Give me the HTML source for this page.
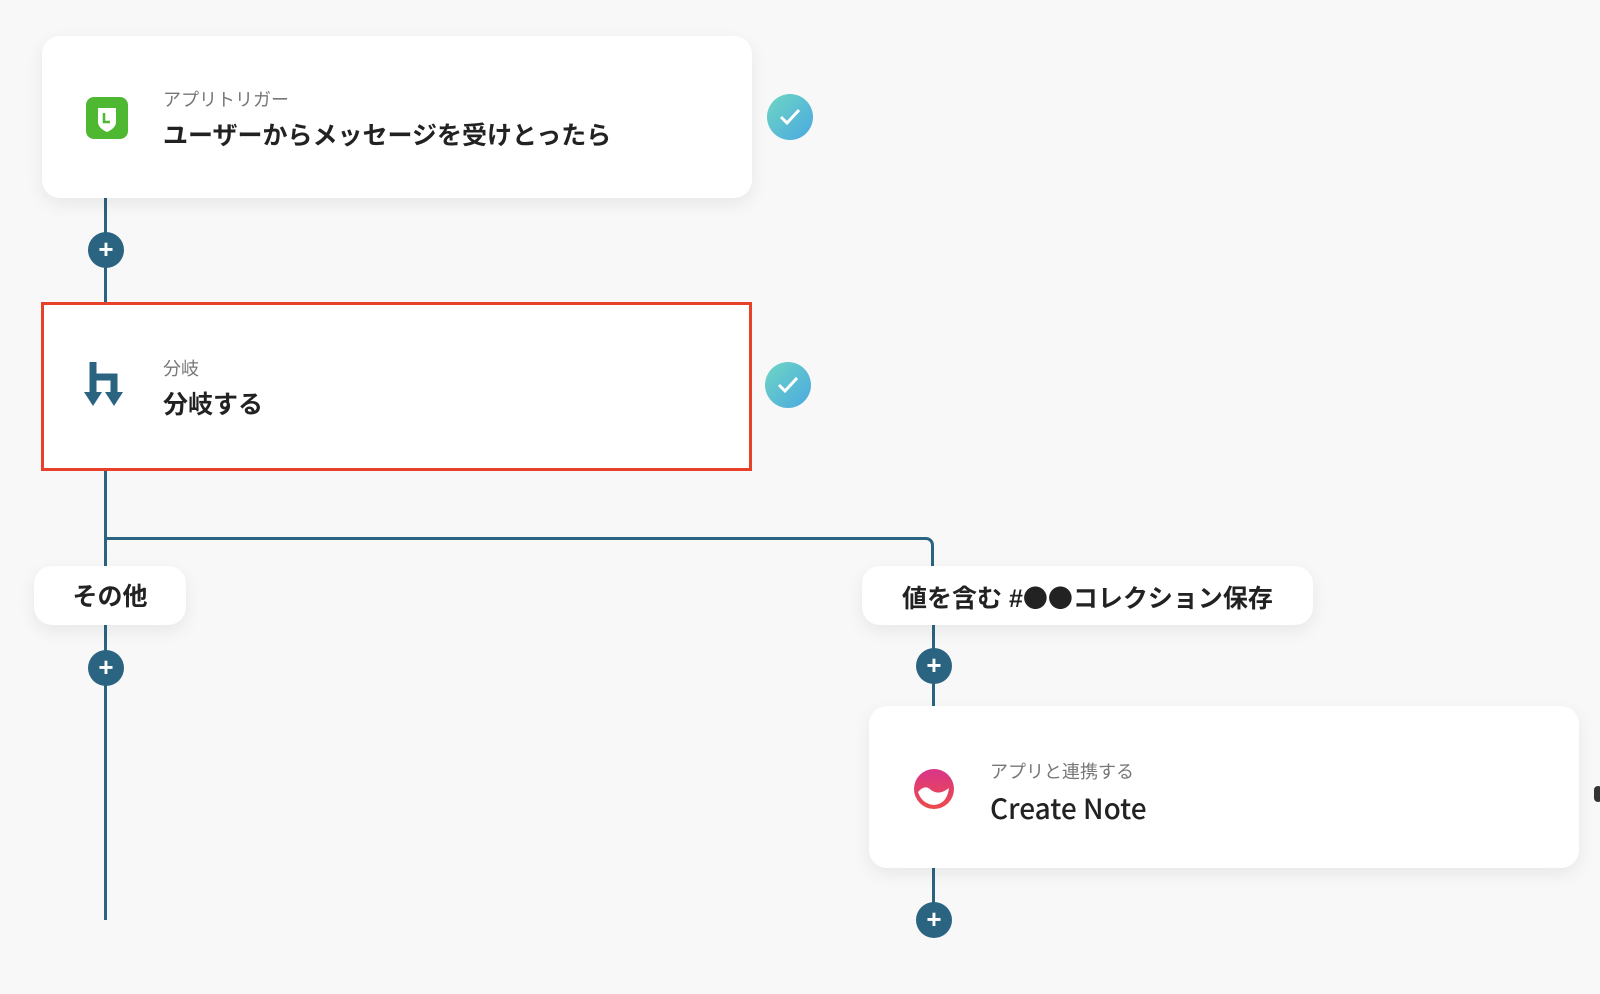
<!DOCTYPE html>
<html><head><meta charset="utf-8"><style>
body{margin:0;width:1600px;height:994px;background:#f8f8f8;position:relative;overflow:hidden;font-family:"Liberation Sans","Noto Sans CJK JP",sans-serif}
.card{position:absolute;background:#fff;border-radius:18px;box-shadow:0 6px 18px rgba(0,0,0,.07)}
.sm{position:absolute;font-size:18px;color:#777}
.tt{position:absolute;font-size:25px;font-weight:bold;color:#222}
.ln{position:absolute;background:#2b6480}
.plus{position:absolute;width:36px;height:36px;border-radius:50%;background:#2b6480;color:#fff;font-size:26px;font-weight:bold;line-height:35px;text-align:center}
.chk{position:absolute;width:46px;height:46px;border-radius:50%;background:linear-gradient(135deg,#6fd6c4,#4aa8e0)}
.lbl{position:absolute;background:#fff;border-radius:18px;box-shadow:0 6px 18px rgba(0,0,0,.07);font-size:25px;font-weight:bold;color:#222;text-align:center;line-height:62px}
</style></head><body>
<div class="ln" style="left:104px;top:198px;width:3px;height:104px"></div>
<div class="ln" style="left:104px;top:471px;width:3px;height:449px"></div>
<div style="position:absolute;left:104px;top:537px;width:830px;height:30px;border-top:3px solid #2b6480;border-right:3px solid #2b6480;border-top-right-radius:8px;box-sizing:border-box"></div>
<div class="ln" style="left:932px;top:620px;width:3px;height:300px"></div>

<div class="card" style="left:42px;top:36px;width:710px;height:162px"></div>
<div style="position:absolute;left:86px;top:97px;width:42px;height:42px;border-radius:8px;background:#4fb832"></div>
<svg style="position:absolute;left:86px;top:97px" width="42" height="42"><path d="M12 11 L30 11 L30 25 Q30 31 21 35 Q12 31 12 25 Z" fill="#fff"/><path d="M18 16 V25 H24" stroke="#4fb832" stroke-width="2.5" fill="none"/></svg>
<div class="sm" style="left:163px;top:86px">アプリトリガー</div>
<div class="tt" style="left:163px;top:116px">ユーザーからメッセージを受けとったら</div>
<div class="chk" style="left:767px;top:94px"></div>
<svg style="position:absolute;left:767px;top:94px" width="46" height="46"><path d="M14 23 L20 29 L32 16" stroke="#fff" stroke-width="3" fill="none"/></svg>

<div class="plus" style="left:88px;top:232px">+</div>

<div style="position:absolute;left:41px;top:302px;width:711px;height:169px;background:#fff;border:3px solid #e8412a;box-sizing:border-box"></div>
<svg style="position:absolute;left:83px;top:360px" width="48" height="50"><path d="M10 2 V34 M10 17 H31 V34" stroke="#2b6480" stroke-width="7" fill="none"/><path d="M1 32 H19 L10 46 Z M22 32 H40 L31 46 Z" fill="#2b6480"/></svg>
<div class="sm" style="left:163px;top:355px">分岐</div>
<div class="tt" style="left:163px;top:385px">分岐する</div>
<div class="chk" style="left:765px;top:362px"></div>
<svg style="position:absolute;left:765px;top:362px" width="46" height="46"><path d="M14 23 L20 29 L32 16" stroke="#fff" stroke-width="3" fill="none"/></svg>

<div class="lbl" style="left:34px;top:566px;width:152px;height:59px">その他</div>
<div class="plus" style="left:88px;top:650px">+</div>

<div class="lbl" style="left:862px;top:566px;width:451px;height:59px">値を含む #<span style="font-family:'Noto Sans CJK JP',sans-serif">●●</span>コレクション保存</div>
<div class="plus" style="left:916px;top:648px">+</div>

<div class="card" style="left:869px;top:706px;width:710px;height:162px"></div>
<svg style="position:absolute;left:913px;top:768px" width="42" height="42"><defs><linearGradient id="g" x1="0" y1="0" x2="0" y2="1"><stop offset="0" stop-color="#d8358a"/><stop offset="1" stop-color="#ee4a4a"/></linearGradient></defs><circle cx="21" cy="21" r="20" fill="url(#g)"/><path d="M5 24 Q12 16 18 22 Q26 28 36 20 Q34 36 21 37 Q9 36 5 24Z" fill="#fff"/></svg>
<div class="sm" style="left:990px;top:758px">アプリと連携する</div>
<div class="tt" style="left:990px;top:788px;font-weight:500;font-size:28px;color:#222;font-family:'Noto Sans CJK JP',sans-serif">Create Note</div>
<div style="position:absolute;left:1594px;top:786px;width:8px;height:16px;border-radius:4px;background:#333"></div>
<div class="plus" style="left:916px;top:902px">+</div>
</body></html>
